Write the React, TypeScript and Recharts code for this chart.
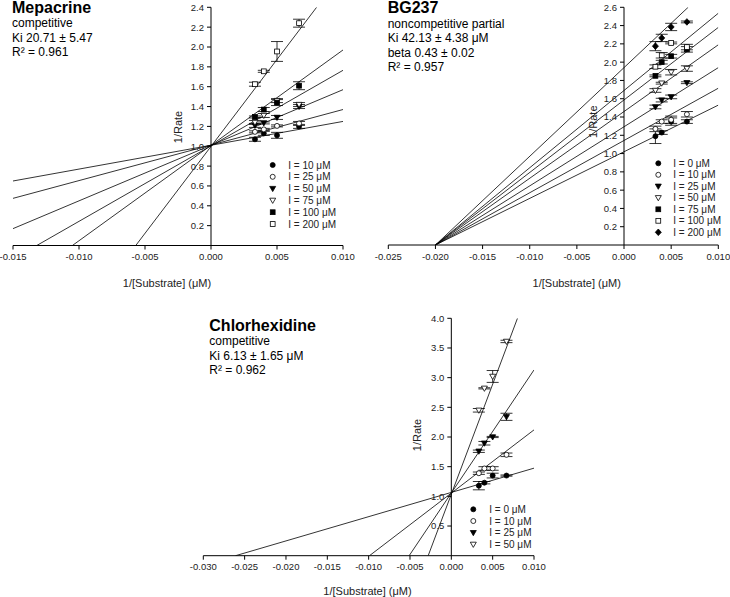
import React from 'react';
import {
  ComposedChart,
  Line,
  Scatter,
  ErrorBar,
  XAxis,
  YAxis,
  ReferenceLine,
} from 'recharts';

// 1/[S] for the four substrate concentrations (300, 250, 200, 150 µM)
const invS = [0.00333, 0.004, 0.005, 0.00667];

// Mepacrine
const mepLabels = ['I = 10 μM', 'I = 25 μM', 'I = 50 μM', 'I = 75 μM', 'I = 100 μM', 'I = 200 μM'];
const mepSyms = ['fc', 'oc', 'ft', 'ot', 'fs', 'os'];
const mepRates = [
  [1.07, 1.13, 1.11, 1.2],
  [1.145, 1.17, 1.205, 1.23],
  [1.21, 1.235, 1.29, 1.4],
  [1.24, 1.31, 1.46, 1.42],
  [1.295, 1.37, 1.44, 1.61],
  [1.625, 1.755, 1.955, 2.24],
];
const mepErrs = [
  [0.02, 0.02, 0.03, 0.02],
  [0.01, 0.01, 0.01, 0.02],
  [0.02, 0.01, 0.02, 0.02],
  [0.02, 0.02, 0.02, 0.02],
  [0.01, 0.02, 0.03, 0.04],
  [0.02, 0.01, 0.1, 0.04],
];
// fitted lines: x1, y1, x2, y2
const mepFits = [
  [-0.015, 0.65, 0.01, 1.25],
  [-0.015, 0.475, 0.01, 1.37],
  [-0.015, 0.17, 0.01, 1.57],
  [-0.0132, 0, 0.01, 1.765],
  [-0.0105, 0, 0.01, 1.97],
  [-0.0057, 0, 0.008, 2.4],
];
const mepNotes = ['competitive', 'Ki 20.71 ± 5.47', 'R² = 0.961'];

// BG237
const bgLabels = ['I = 0 μM', 'I = 10 μM', 'I = 25 μM', 'I = 50 μM', 'I = 75 μM', 'I = 100 μM', 'I = 200 μM'];
const bgSyms = ['fc', 'oc', 'ft', 'ot', 'fs', 'os', 'fd'];
const bgRates = [
  [1.19, 1.23, 1.35, 1.35],
  [1.27, 1.35, 1.37, 1.43],
  [1.51, 1.585, 1.62, 1.775],
  [1.69, 1.77, 1.89, 1.93],
  [1.85, 2.0, 2.065, 2.14],
  [1.95, 2.075, 2.21, 2.165],
  [2.175, 2.265, 2.385, 2.44],
];
const bgErrs = [
  [0.08, 0.02, 0.04, 0.02],
  [0.03, 0.02, 0.04, 0.03],
  [0.02, 0.02, 0.02, 0.01],
  [0.02, 0.01, 0.03, 0.03],
  [0.01, 0.02, 0.02, 0.03],
  [0.02, 0.03, 0.01, 0.03],
  [0.05, 0.04, 0.04, 0.01],
];
const bgFits = [
  [-0.02, 0, 0.01, 1.53],
  [-0.02, 0, 0.01, 1.715],
  [-0.02, 0, 0.01, 1.94],
  [-0.02, 0, 0.01, 2.19],
  [-0.02, 0, 0.01, 2.38],
  [-0.02, 0, 0.01, 2.535],
  [-0.02, 0, 0.0068, 2.6],
];
const bgNotes = ['noncompetitive partial', 'Ki 42.13 ± 4.38 μM', 'beta 0.43 ± 0.02', 'R² = 0.957'];

// Chlorhexidine
const chlLabels = ['I = 0 μM', 'I = 10 μM', 'I = 25 μM', 'I = 50 μM'];
const chlSyms = ['fc', 'oc', 'ft', 'ot'];
const chlRates = [
  [1.18, 1.23, 1.35, 1.35],
  [1.39, 1.47, 1.47, 1.7],
  [1.76, 1.895, 2.0, 2.34],
  [2.45, 2.82, 3.02, 3.61],
];
const chlErrs = [
  [0.07, 0.02, 0.04, 0.01],
  [0.02, 0.03, 0.03, 0.03],
  [0.02, 0.03, 0.01, 0.06],
  [0.03, 0.01, 0.1, 0.02],
];
const chlFits = [
  [-0.0261, 0, 0.01, 1.475],
  [-0.0099, 0, 0.01, 2.12],
  [-0.0051, 0, 0.01, 3.13],
  [-0.0028, 0, 0.008, 4.0],
];
const chlNotes = ['competitive', 'Ki 6.13 ± 1.65 μM', 'R² = 0.962'];

const mepXTicks = [-0.015, -0.01, -0.005, 0, 0.005, 0.01];
const bgXTicks = [-0.025, -0.02, -0.015, -0.01, -0.005, 0, 0.005, 0.01];
const chlXTicks = [-0.03, -0.025, -0.02, -0.015, -0.01, -0.005, 0, 0.005, 0.01];
const mepYTicks = [0.2, 0.4, 0.6, 0.8, 1.0, 1.2, 1.4, 1.6, 1.8, 2.0, 2.2, 2.4];
const bgYTicks = [0.2, 0.4, 0.6, 0.8, 1.0, 1.2, 1.4, 1.6, 1.8, 2.0, 2.2, 2.4, 2.6];
const chlYTicks = [0.5, 1.0, 1.5, 2.0, 2.5, 3.0, 3.5, 4.0];

const FONT = '"Liberation Sans", Arial, sans-serif';

const toPoints = (rates: number[][], errs: number[][]) =>
  rates.map((row, i) => row.map((y, j) => ({ x: invS[j], y, e: errs[i][j] })));
const toFit = (f: number[]) => [
  { x: f[0], y: f[1] },
  { x: f[2], y: f[3] },
];

function Marker({ cx, cy, kind }: { cx: number; cy: number; kind: string }) {
  const s = { fill: kind[0] === 'f' ? '#000' : '#fff', stroke: '#000', strokeWidth: 0.8 };
  if (cx == null || cy == null) return <g />;
  switch (kind[1]) {
    case 'c':
      return <circle cx={cx} cy={cy} r={2.5} {...s} />;
    case 't':
      return <polygon points={`${cx - 3},${cy - 2.2} ${cx + 3},${cy - 2.2} ${cx},${cy + 3}`} {...s} />;
    case 's':
      return <rect x={cx - 2.4} y={cy - 2.4} width={4.8} height={4.8} {...s} />;
    default:
      return <polygon points={`${cx},${cy - 3.3} ${cx + 3},${cy} ${cx},${cy + 3.3} ${cx - 3},${cy}`} {...s} />;
  }
}

// y axis sits at x = 0, so ticks are drawn there instead of at the plot edge
function YTick(props: any) {
  const { y, payload, axisX } = props;
  return (
    <g>
      <line x1={axisX - 4} x2={axisX} y1={y} y2={y} stroke="#000" strokeWidth={1} />
      <text x={axisX - 7} y={y + 3.4} textAnchor="end" fontSize={9.5} fill="#222">
        {payload.value.toFixed(1)}
      </text>
    </g>
  );
}

interface PanelProps {
  x: number;
  y: number;
  w: number;
  h: number;
  margin: { top: number; right: number; bottom: number; left: number };
  xDomain: [number, number];
  xTicks: number[];
  yMax: number;
  yTicks: number[];
  rates: number[][];
  errs: number[][];
  fits: number[][];
  syms: string[];
}

function Panel(p: PanelProps) {
  const yw = 1;
  const plotLeft = p.margin.left + yw;
  const plotW = p.w - plotLeft - p.margin.right;
  const axisX = plotLeft + (plotW * (0 - p.xDomain[0])) / (p.xDomain[1] - p.xDomain[0]);
  const pts = toPoints(p.rates, p.errs);
  return (
    <div style={{ position: 'absolute', left: p.x, top: p.y }}>
      <ComposedChart width={p.w} height={p.h} margin={p.margin}>
        <XAxis
          type="number"
          dataKey="x"
          domain={p.xDomain}
          ticks={p.xTicks}
          interval={0}
          allowDataOverflow
          tickFormatter={(v: number) => v.toFixed(3)}
          tickSize={4}
          tickMargin={4}
          height={30}
          stroke="#000"
          tick={{ fontSize: 9.5, fill: '#222' }}
        />
        <YAxis
          type="number"
          dataKey="y"
          domain={[0, p.yMax]}
          ticks={p.yTicks}
          interval={0}
          allowDataOverflow
          width={yw}
          axisLine={false}
          tickLine={false}
          tick={(t: any) => <YTick {...t} axisX={axisX} />}
        />
        <ReferenceLine x={0} stroke="#000" strokeWidth={1} />
        {p.fits.map((f, i) => (
          <Line
            key={'f' + i}
            data={toFit(f)}
            dataKey="y"
            type="linear"
            dot={false}
            stroke="#000"
            strokeWidth={0.8}
            isAnimationActive={false}
          />
        ))}
        {pts.map((d, i) => (
          <Scatter
            key={'s' + i}
            data={d}
            dataKey="y"
            isAnimationActive={false}
            shape={(sp: any) => <Marker cx={sp.cx} cy={sp.cy} kind={p.syms[i]} />}
          >
            <ErrorBar dataKey="e" direction="y" width={6} stroke="#000" strokeWidth={0.8} />
          </Scatter>
        ))}
      </ComposedChart>
    </div>
  );
}

function Notes({ x, y, title, lines }: { x: number; y: number; title: string; lines: string[] }) {
  return (
    <g>
      <text x={x} y={y} fontSize={16} fontWeight="bold">
        {title}
      </text>
      {lines.map((l, i) => (
        <text key={i} x={x} y={y + 14.5 * (i + 1)} fontSize={12}>
          {l}
        </text>
      ))}
    </g>
  );
}

function Key({ sx, tx, y, step, labels, syms }: { sx: number; tx: number; y: number; step: number; labels: string[]; syms: string[] }) {
  return (
    <g>
      {labels.map((l, i) => (
        <g key={i}>
          <Marker cx={sx} cy={y + i * step} kind={syms[i]} />
          <text x={tx} y={y + i * step + 3.5} fontSize={10} fill="#222">
            {l}
          </text>
        </g>
      ))}
    </g>
  );
}

function AxisTitles({ xx, xy, rx, ry }: { xx: number; xy: number; rx: number; ry: number }) {
  return (
    <g fontSize={11} fill="#222">
      <text x={xx} y={xy} textAnchor="middle">
        1/[Substrate] (μM)
      </text>
      <text transform={`translate(${rx},${ry}) rotate(-90)`} textAnchor="middle">
        1/Rate
      </text>
    </g>
  );
}

export default function App() {
  return (
    <div style={{ position: 'absolute', left: 0, top: 0, width: 730, height: 597, background: '#fff', fontFamily: FONT }}>
      <Panel
        x={0}
        y={0}
        w={360}
        h={290}
        margin={{ top: 7.3, right: 17, left: 12, bottom: 14.5 }}
        xDomain={[-0.015, 0.01]}
        xTicks={mepXTicks}
        yMax={2.4}
        yTicks={mepYTicks}
        rates={mepRates}
        errs={mepErrs}
        fits={mepFits}
        syms={mepSyms}
      />
      <Panel
        x={365}
        y={0}
        w={365}
        h={290}
        margin={{ top: 7.3, right: 11.7, left: 22.3, bottom: 15 }}
        xDomain={[-0.025, 0.01]}
        xTicks={bgXTicks}
        yMax={2.6}
        yTicks={bgYTicks}
        rates={bgRates}
        errs={bgErrs}
        fits={bgFits}
        syms={bgSyms}
      />
      <Panel
        x={150}
        y={300}
        w={400}
        h={297}
        margin={{ top: 18.3, right: 16, left: 52.3, bottom: 11.3 }}
        xDomain={[-0.03, 0.01]}
        xTicks={chlXTicks}
        yMax={4.0}
        yTicks={chlYTicks}
        rates={chlRates}
        errs={chlErrs}
        fits={chlFits}
        syms={chlSyms}
      />
      <svg width={730} height={597} style={{ position: 'absolute', left: 0, top: 0, pointerEvents: 'none' }}>
        <Notes x={12} y={12.7} title="Mepacrine" lines={mepNotes} />
        <Notes x={387.7} y={13} title="BG237" lines={bgNotes} />
        <Notes x={209.3} y={330.7} title="Chlorhexidine" lines={chlNotes} />
        <Key sx={272.7} tx={288.3} y={165} step={11.8} labels={mepLabels} syms={mepSyms} />
        <Key sx={658.3} tx={673.3} y={163.3} step={11.5} labels={bgLabels} syms={bgSyms} />
        <Key sx={473.3} tx={489.3} y={509.3} step={11.7} labels={chlLabels} syms={chlSyms} />
        <AxisTitles xx={167} xy={287} rx={181.5} ry={127} />
        <AxisTitles xx={576.7} xy={287} rx={596.5} ry={121.7} />
        <AxisTitles xx={367.5} xy={595} rx={420.5} ry={435} />
      </svg>
    </div>
  );
}
